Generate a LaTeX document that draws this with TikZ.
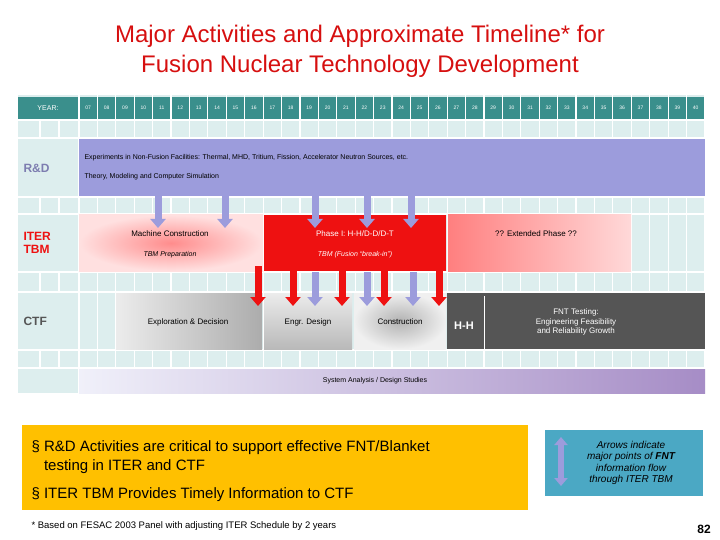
\documentclass[tikz,border=0pt]{standalone}
\usepackage{fontspec}
\setmainfont{Liberation Sans}
\usepackage{tikz}
\usetikzlibrary{arrows.meta,positioning,calc,shadings}
\definecolor{hdr}{HTML}{3A8F8C}
\definecolor{cell}{HTML}{DDEEEE}
\definecolor{rnd}{HTML}{9C9CDC}
\definecolor{ired}{HTML}{EE1111}
\definecolor{blu}{HTML}{9C9CDC}
\definecolor{dgray}{HTML}{555555}
\definecolor{ylw}{HTML}{FFC000}
\definecolor{bbox}{HTML}{4BA8C4}
\tikzset{
  tiny/.style={font=\fontsize{7}{8}\selectfont},
  lab/.style={font=\fontsize{8}{9.5}\selectfont},
  rowlab/.style={font=\bfseries\fontsize{12}{13}\selectfont,align=left,anchor=west},
  bluarrow/.style={draw=blu,line width=7pt,-{Triangle[width=15pt,length=9pt]}},
  redarrow/.style={draw=ired,line width=7pt,-{Triangle[width=15pt,length=9pt]}},
}
\begin{document}
\begin{tikzpicture}[x=1pt,y=-1pt]
\useasboundingbox (0,0) rectangle (720,540);
% title
\node[font=\fontsize{24}{30}\selectfont,text=ired!90!black,align=center] (title) at (360,51)
  {Major Activities and Approximate Timeline* for\\Fusion Nuclear Technology Development};
% grid background
\fill[cell] (18,95) rectangle (705,393);
\foreach \i in {0,...,34}
  \draw[white,line width=1.2pt] ({79+18.41*\i},95) -- ({79+18.41*\i},393);
\foreach \x in {40,59}
  \foreach \ya/\yb in {120/138,197/214,272/292,350/368}
    \draw[white,line width=1.2pt] (\x,\ya) -- (\x,\yb);
\foreach \y in {120,138,197,214,272,292,350,368}
  \draw[white,line width=1.5pt] (18,\y) -- (705,\y);
% header
\fill[hdr] (18,97) rectangle (705,119);
\foreach \i in {0,...,34}
  \draw[white,line width=1.2pt] ({79+18.41*\i},97) -- ({79+18.41*\i},119);
\node[tiny,text=white] (year) at (48,108) {YEAR:};
\foreach \y [count=\i from 0] in {07,08,09,10,11,12,13,14,15,16,17,18,19,20,21,22,23,24,25,26,27,28,29,30,31,32,33,34,35,36,37,38,39,40}
  \node[font=\fontsize{5}{6}\selectfont,text=white] at ({88.2+18.41*\i},108) {\y};
% row labels
\node[rowlab,text=rnd!80!black] (rdlab) at (20,168) {R\&D};
\node[rowlab,text=ired] (iterlab) at (20,243) {ITER\\TBM};
\node[rowlab,text=dgray] (ctflab) at (20,321) {CTF};
% R&D band
\fill[rnd] (79,139) rectangle (705,196);
\node[tiny,anchor=west] (rd1) at (81,158) {Experiments in Non-Fusion Facilities: Thermal, MHD, Tritium, Fission, Accelerator Neutron Sources, etc.};
\node[tiny,anchor=west] (rd2) at (81,177) {Theory, Modeling and Computer Simulation};
% ITER row
\shade[inner color=red!45,outer color=red!12] (79,215) rectangle (263,271);
\fill[ired] (264,215) rectangle (446,271);
\shade[left color=red!50,right color=red!15] (448,215) rectangle (631,271);
\node[lab] (mc) at (170,234) {Machine Construction};
\node[font=\itshape\fontsize{7}{8}\selectfont] (tbmp) at (170,255) {TBM Preparation};
\node[lab,text=white] (ph1) at (355,234) {Phase I: H-H/D-D/D-T};
\node[font=\itshape\fontsize{7}{8}\selectfont,text=white] (tbmf) at (355,255) {TBM (Fusion ``break-in'')};
\node[lab] (ext) at (536,234) {?? Extended Phase ??};
% CTF row
\shade[left color=gray!15,right color=gray!65] (116,293) rectangle (262,349);
\shade[top color=gray!15,bottom color=gray!55] (264,293) rectangle (352,349);
\shade[inner color=gray!60,outer color=gray!12] (354,293) rectangle (446,349);
\fill[dgray] (447,293) rectangle (705,349);
\draw[white,line width=1pt] (484,296) -- (484,349);
\node[lab] (expl) at (188,322) {Exploration \& Decision};
\node[lab] (engr) at (308,322) {Engr. Design};
\node[lab] (cons) at (400,322) {Construction};
\node[font=\bfseries\fontsize{11}{12}\selectfont,text=white] (hh) at (464,326) {H-H};
\node[lab,text=white,align=center] (fnt) at (576,322) {FNT Testing:\\Engineering Feasibility\\and Reliability Growth};
% system analysis
\shade[left color=rnd!15,right color=rnd!90!red] (79,369) rectangle (705,393);
\node[tiny] (sys) at (375,381) {System Analysis / Design Studies};
% arrows R&D -> ITER
\foreach \x in {158,225,315,367,411}
  \draw[bluarrow] (\x,196) -- (\x,228);
% arrows ITER -> CTF
\foreach \x in {258,293,342,384,439}
  \draw[redarrow] (\x,266) -- (\x,306);
\foreach \x in {315,367,413}
  \draw[bluarrow] (\x,272) -- (\x,306);
% yellow box
\fill[ylw] (22,425) rectangle (528,510);
\node[anchor=west,font=\fontsize{15}{19}\selectfont,align=left] (b1) at (28,457)
  {\S\ R\&D Activities are critical to support effective FNT/Blanket\\\phantom{\S\ }testing in ITER and CTF};
\node[anchor=west,font=\fontsize{15}{17}\selectfont] (b2) at (28,495) {\S\ ITER TBM Provides Timely Information to CTF};
% blue box
\fill[bbox] (545,430) rectangle (703,496);
\coordinate (au) at (561,437);
\coordinate (ad) at (561,486);
\draw[draw=rnd,line width=6pt,{Triangle[width=13pt,length=8pt]}-{Triangle[width=13pt,length=8pt]}] (au) -- (ad);
\node[align=center,font=\itshape\fontsize{10}{11.5}\selectfont] (note) at (631,463)
  {Arrows indicate\\major points of \textbf{FNT}\\information flow\\through ITER TBM};
% footer
\node[anchor=west,font=\fontsize{9.5}{11}\selectfont] (foot) at (28,526) {* Based on FESAC 2003 Panel with adjusting ITER Schedule by 2 years};
\node[font=\bfseries\fontsize{12}{13}\selectfont] (pg) at (704,529) {82};
\end{tikzpicture}
\end{document}
